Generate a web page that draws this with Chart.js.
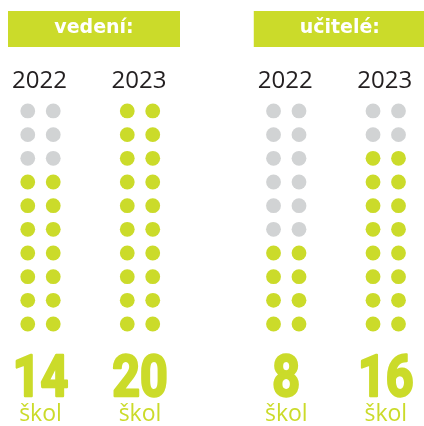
<!DOCTYPE html>
<html>
<head>
<meta charset="utf-8">
<script src="https://cdn.jsdelivr.net/npm/chart.js@4/dist/chart.umd.min.js"></script>
<style>
  html, body { margin: 0; padding: 0; background: #ffffff; }
  #wrap { width: 424px; height: 426px; position: relative; }
</style>
</head>
<body>
<div id="wrap"><canvas id="c"></canvas></div>
<script>
// ---- data ----
const groups = ["vedení:", "učitelé:"];
const years = ["2022", "2023"];
const vedeni = [14, 20];
const ucitele = [8, 16];
const unitLabel = "škol";
const totalDots = 20;

// ---- style ----
const GREEN = "#cbdb2a";
const GREY = "#d1d3d4";
const DARK = "#231f20";

// layout (in scale units)
const groupGap = 0.47;      // extra gap between the two groups (column units)
const dotOffset = 0.128;    // half distance between the two dots of a pair
const rows = totalDots / 2;

const seriesValues = [vedeni, ucitele];
const columns = [];
seriesValues.forEach((vals, g) => {
  vals.forEach((v, y) => {
    columns.push({ x: g * (years.length + groupGap) + y, value: v, year: years[y], group: g });
  });
});

const greenPts = [], greyPts = [];
columns.forEach(col => {
  const filledRows = col.value / 2;
  for (let r = 0; r < rows; r++) {
    for (const s of [-1, 1]) {
      const p = { x: col.x + s * dotOffset, y: r };
      (r < filledRows ? greenPts : greyPts).push(p);
    }
  }
});

const labelsPlugin = {
  id: "labels",
  afterDatasetsDraw(chart) {
    const ctx = chart.ctx;
    const xs = chart.scales.x;
    ctx.save();
    // group headers
    groups.forEach((g, gi) => {
      const c0 = xs.getPixelForValue(gi * (years.length + groupGap));
      const c1 = xs.getPixelForValue(gi * (years.length + groupGap) + 1);
      const left = c0 - 32.5, right = c1 + 40;
      ctx.fillStyle = GREEN;
      ctx.fillRect(left, 11, right - left, 36);
      ctx.fillStyle = "#ffffff";
      ctx.font = "bold 19px 'DejaVu Sans', sans-serif";
      ctx.textAlign = "center";
      ctx.textBaseline = "middle";
      ctx.fillText(g, (left + right) / 2, 28);
    });
    columns.forEach(col => {
      const cx = xs.getPixelForValue(col.x);
      ctx.textAlign = "center";
      ctx.textBaseline = "alphabetic";
      ctx.fillStyle = DARK;
      ctx.font = "24px 'Open Sans', sans-serif";
      ctx.fillText(col.year, cx - 1, 88);
      // big number
      ctx.fillStyle = GREEN;
      ctx.strokeStyle = GREEN;
      ctx.lineWidth = 2.5;
      ctx.lineJoin = "round";
      ctx.font = "bold 57px Roboto, sans-serif";
      const txt = String(col.value);
      ctx.save();
      ctx.translate(cx, 396);
      ctx.scale(0.85, 1);
      ctx.fillText(txt, 0, 0);
      ctx.strokeText(txt, 0, 0);
      ctx.restore();
      ctx.font = "23px 'Open Sans', sans-serif";
      ctx.fillText(unitLabel, cx, 421);
    });
    ctx.restore();
  }
};

const colUnit = 99.5, firstColPx = 40.5, rowUnit = 23.67, bottomRowPx = 324;

new Chart(document.getElementById("c"), {
  type: "scatter",
  data: {
    datasets: [
      { data: greenPts, backgroundColor: GREEN, borderWidth: 0, pointRadius: 7.4, pointHoverRadius: 7.4 },
      { data: greyPts, backgroundColor: GREY, borderWidth: 0, pointRadius: 7.4, pointHoverRadius: 7.4 }
    ]
  },
  options: {
    responsive: true,
    maintainAspectRatio: false,
    animation: false,
    events: [],
    layout: { padding: 0, autoPadding: false },
    plugins: { legend: { display: false }, tooltip: { enabled: false } },
    scales: {
      x: { type: "linear", display: false, min: -firstColPx / colUnit, max: (424 - firstColPx) / colUnit },
      y: { type: "linear", display: false, min: (bottomRowPx - 426) / rowUnit, max: bottomRowPx / rowUnit }
    }
  },
  plugins: [labelsPlugin]
});
</script>
</body>
</html>
